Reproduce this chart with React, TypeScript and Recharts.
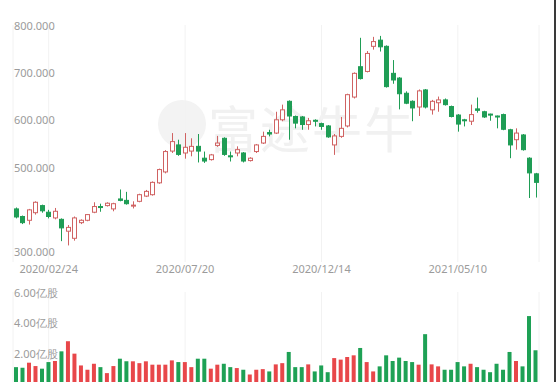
import React from 'react';
import { ComposedChart, Bar, BarChart, XAxis, YAxis, CartesianGrid, Cell } from 'recharts';

const dates = [
  '2020/01/20', '2020/01/27', '2020/02/03', '2020/02/10', '2020/02/17', '2020/02/24', '2020/03/02', '2020/03/09',
  '2020/03/16', '2020/03/23', '2020/03/30', '2020/04/06', '2020/04/13', '2020/04/20', '2020/04/27', '2020/05/04',
  '2020/05/11', '2020/05/18', '2020/05/25', '2020/06/01', '2020/06/08', '2020/06/15', '2020/06/22', '2020/06/29',
  '2020/07/06', '2020/07/13', '2020/07/20', '2020/07/27', '2020/08/03', '2020/08/10', '2020/08/17', '2020/08/24',
  '2020/08/31', '2020/09/07', '2020/09/14', '2020/09/21', '2020/09/28', '2020/10/05', '2020/10/12', '2020/10/19',
  '2020/10/26', '2020/11/02', '2020/11/09', '2020/11/16', '2020/11/23', '2020/11/30', '2020/12/07', '2020/12/14',
  '2020/12/21', '2020/12/28', '2021/01/04', '2021/01/11', '2021/01/18', '2021/01/25', '2021/02/01', '2021/02/08',
  '2021/02/15', '2021/02/22', '2021/03/01', '2021/03/08', '2021/03/15', '2021/03/22', '2021/03/29', '2021/04/05',
  '2021/04/12', '2021/04/19', '2021/04/26', '2021/05/03', '2021/05/10', '2021/05/17', '2021/05/24', '2021/05/31',
  '2021/06/07', '2021/06/14', '2021/06/21', '2021/06/28', '2021/07/05', '2021/07/12', '2021/07/19', '2021/07/26',
  '2021/08/02',
];

const opens = [
  412, 396, 388, 404, 419, 405, 393, 390, 365, 350, 383, 388, 405, 417, 419, 412, 433, 430, 418, 428,
  439, 442, 467, 490, 534, 547, 530, 534, 544, 519, 516, 546, 561, 524, 530, 530, 514, 533, 551, 573,
  572, 600, 639, 607, 606, 590, 599, 592, 587, 547, 565, 587, 648, 712, 702, 755, 768, 755, 698, 688,
  656, 639, 627, 663, 621, 636, 642, 628, 610, 600, 597, 623, 617, 612, 608, 611, 579, 558, 568, 519,
  486,
];
const highs = [
  415, 398, 412, 428, 421, 410, 414, 392, 378, 396, 390, 401, 426, 423, 426, 425, 453, 448, 428, 444,
  452, 470, 497, 536, 572, 558, 572, 561, 570, 533, 528, 566, 563, 533, 544, 532, 521, 549, 575, 579,
  617, 632, 641, 609, 608, 604, 601, 594, 589, 570, 606, 655, 700, 773, 745, 775, 777, 757, 726, 690,
  660, 641, 664, 665, 642, 649, 645, 630, 612, 602, 632, 647, 619, 613, 609, 613, 581, 582, 570, 521,
  488,
];
const lows = [
  392, 380, 379, 400, 404, 392, 390, 344, 335, 345, 380, 386, 403, 406, 417, 407, 428, 421, 413, 426,
  437, 440, 465, 487, 530, 524, 518, 523, 510, 509, 514, 543, 524, 512, 523, 510, 512, 530, 549, 565,
  570, 597, 558, 582, 579, 579, 586, 579, 562, 526, 562, 584, 645, 685, 700, 748, 744, 668, 676, 622,
  633, 597, 608, 624, 611, 617, 630, 605, 575, 586, 589, 615, 604, 598, 582, 578, 519, 537, 535, 435,
  436,
];
const closes = [
  395, 383, 410, 426, 408, 396, 407, 372, 373, 393, 388, 400, 417, 415, 424, 423, 430, 423, 420, 442,
  449, 468, 495, 533, 554, 527, 542, 544, 534, 513, 526, 551, 527, 522, 537, 513, 519, 547, 565, 570,
  600, 621, 608, 593, 590, 598, 597, 586, 564, 566, 582, 653, 698, 687, 740, 765, 754, 670, 684, 655,
  635, 625, 661, 627, 639, 642, 632, 607, 591, 598, 611, 620, 606, 610, 606, 580, 547, 572, 537, 488,
  468,
];

// 成交量（亿股）
const volumes = [
  1.10, 1.06, 1.39, 1.17, 1.00, 1.43, 1.50, 2.13, 2.79, 1.98, 1.21, 0.93, 1.32, 1.10, 0.71, 1.17, 1.65, 1.48, 1.48, 1.36,
  1.48, 1.26, 1.26, 1.26, 1.54, 1.43, 1.43, 1.10, 1.65, 1.65, 1.00, 1.26, 1.32, 1.10, 1.04, 0.93, 0.62, 0.93, 0.97, 0.82,
  1.28, 1.36, 2.09, 1.10, 1.10, 1.28, 0.82, 1.21, 0.77, 1.69, 1.59, 1.76, 1.87, 2.35, 1.43, 0.82, 1.15, 1.87, 1.50, 1.72,
  1.50, 1.43, 1.26, 3.25, 1.28, 1.15, 0.93, 0.93, 1.43, 1.15, 1.32, 1.10, 0.93, 0.77, 1.32, 0.93, 2.09, 1.50, 1.15, 4.43,
  2.20,
];

const xTicks = ['2020/02/24', '2020/07/20', '2020/12/14', '2021/05/10'];
const priceTicks = [300, 500, 600, 700, 800];
const volumeTicks = [2, 4, 6];

const UP = '#d06262';
const DOWN = '#1f9d55';
const VOL_UP = '#e8474a';
const VOL_DOWN = '#1ea155';
const LABEL = '#9b9b9b';
const FONT = '"Noto Sans", Lato, sans-serif';

const rows = dates.map((d, i) => ({
  date: d,
  open: opens[i],
  high: highs[i],
  low: lows[i],
  close: closes[i],
  range: [lows[i], highs[i]],
  volume: volumes[i],
}));

const Candle = (props: any) => {
  const { x, y, width, height, payload } = props;
  const { open, close, high, low } = payload;
  const top = Math.min(y, y + height);
  const span = Math.abs(height);
  const k = span / (high - low);
  const py = (v: number) => top + (high - v) * k;
  const up = close >= open;
  const color = up ? UP : DOWN;
  const cx = Math.round(x + width / 2) + 0.5;
  const bTop = py(Math.max(open, close));
  const bh = Math.max(1, py(Math.min(open, close)) - bTop);
  return (
    <g>
      <line x1={cx} x2={cx} y1={top} y2={top + span} stroke={color} strokeWidth={1} />
      <rect x={cx - 2} y={bTop} width={4} height={bh} fill={up ? '#fff' : DOWN} stroke={color} strokeWidth={1} />
    </g>
  );
};

const PriceTick = (props: any) => {
  const { y, payload } = props;
  const dy = payload.value === 300 ? -11 : 0;
  return (
    <text x={14} y={y + dy} dominantBaseline="central" fill={LABEL} fontSize={11} fontFamily={FONT}>
      {Number(payload.value).toFixed(3)}
    </text>
  );
};

const DateTick = (props: any) => {
  const { x, y, payload } = props;
  return (
    <text x={x} y={y + 4} textAnchor="middle" dominantBaseline="central" fill={LABEL} fontSize={11} fontFamily={FONT}>
      {payload.value}
    </text>
  );
};

const VolumeTick = (props: any) => {
  const { y, payload } = props;
  return (
    <text x={14} y={y} dominantBaseline="central" fill={LABEL} fontSize={11} fontFamily={FONT}>
      {Number(payload.value).toFixed(2)}亿股
    </text>
  );
};

export default function App() {
  return (
    <div style={{ position: 'absolute', left: 0, top: 0, width: 560, height: 382, overflow: 'hidden', background: '#fff' }}>
      {/* 水印 */}
      <div style={{ position: 'absolute', left: 158, top: 100, width: 48, height: 48, borderRadius: 24, background: '#f3f3f3' }} />
      <div
        style={{
          position: 'absolute', left: 208, top: 96, fontSize: 50, lineHeight: '60px', letterSpacing: 2,
          color: '#f1f1f1', fontFamily: '"Noto Sans CJK SC", sans-serif', fontWeight: 400,
        }}
      >
        富途牛牛
      </div>

      <div style={{ position: 'absolute', left: 0, top: 0 }}>
        <ComposedChart width={560} height={280} data={rows} margin={{ top: 25, right: 21, bottom: 0, left: 13 }} barCategoryGap={0}>
          <CartesianGrid horizontal={false} stroke="#f2f2f2" />
          <XAxis
            dataKey="date"
            ticks={xTicks}
            interval={0}
            height={18}
            axisLine={false}
            tickLine={false}
            tickSize={0}
            tick={<DateTick />}
          />
          <YAxis
            width={1}
            mirror
            domain={[300, 800]}
            ticks={priceTicks}
            interval={0}
            allowDataOverflow
            axisLine={false}
            tickLine={false}
            tick={<PriceTick />}
          />
          <Bar dataKey="range" shape={<Candle />} isAnimationActive={false} />
        </ComposedChart>
      </div>

      <div style={{ position: 'absolute', left: 0, top: 280 }}>
        <BarChart width={560} height={104} data={rows} margin={{ top: 12, right: 21, bottom: 0, left: 13 }} barSize={4}>
          <CartesianGrid horizontal={false} stroke="#f2f2f2" />
          <XAxis dataKey="date" ticks={xTicks} interval={0} hide />
          <YAxis
            width={1}
            mirror
            domain={[0, 6]}
            ticks={volumeTicks}
            interval={0}
            allowDataOverflow
            axisLine={false}
            tickLine={false}
            tick={<VolumeTick />}
          />
          <Bar dataKey="volume" isAnimationActive={false}>
            {rows.map((r, i) => (
              <Cell key={i} fill={r.close >= r.open ? VOL_UP : VOL_DOWN} />
            ))}
          </Bar>
        </BarChart>
      </div>

      <div style={{ position: 'absolute', left: 554, top: 0, width: 2, height: 382, background: '#3a3a3a' }} />
    </div>
  );
}
